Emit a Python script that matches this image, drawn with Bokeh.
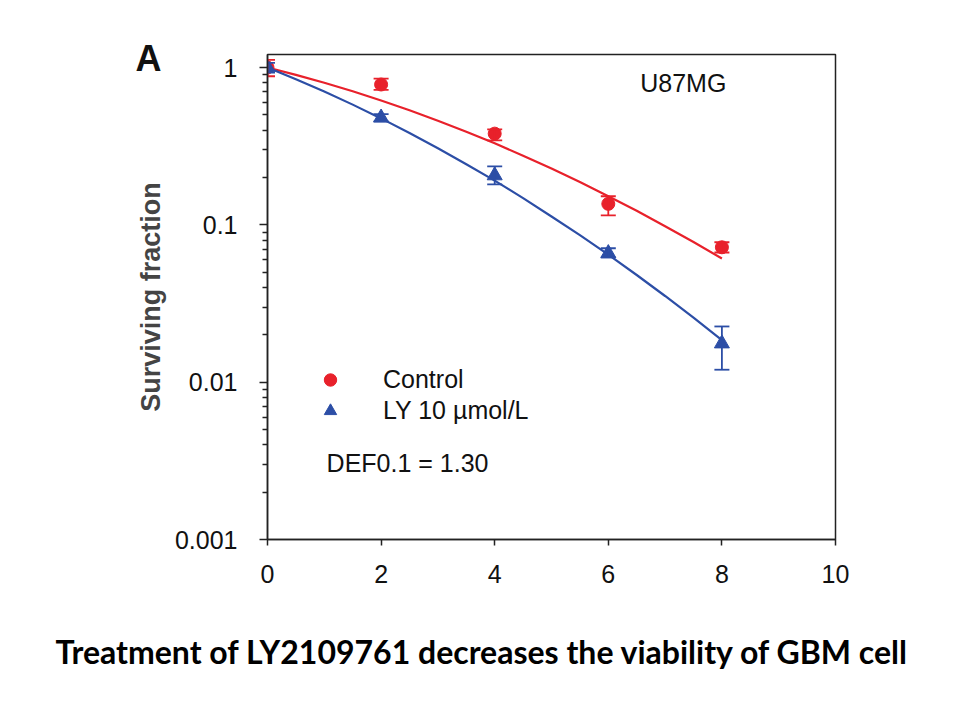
from bokeh.plotting import figure
from bokeh.models import (Range1d, FixedTicker, ColumnDataSource, Whisker, TeeHead,
                          Label, Legend, LegendItem, CustomJSTickFormatter, Title)
from bokeh.embed import file_html
from bokeh.resources import INLINE

# ---- data ----
dose = [0, 2, 4, 6, 8]
control_sf = [1.0, 0.78, 0.38, 0.136, 0.072]
control_lo = [0.88, 0.72, 0.344, 0.115, 0.0667]
control_hi = [1.12, 0.85, 0.404, 0.152, 0.0775]
ly_sf = [1.0, 0.48, 0.206, 0.066, 0.0176]
ly_lo = [0.93, 0.455, 0.181, 0.062, 0.0120]
ly_hi = [1.07, 0.505, 0.235, 0.071, 0.0226]

fit_dose = [0, 0.5, 1, 1.5, 2, 2.5, 3, 3.5, 4, 4.5, 5, 5.5, 6, 6.5, 7, 7.5, 8]
control_fit = [1.0, 0.898, 0.800, 0.706, 0.617, 0.535, 0.459, 0.391, 0.330,
               0.275, 0.228, 0.187, 0.152, 0.123, 0.098, 0.0778, 0.0611]
ly_fit = [1.0, 0.843, 0.704, 0.581, 0.475, 0.384, 0.307, 0.243, 0.191,
          0.148, 0.113, 0.0860, 0.0646, 0.0480, 0.0353, 0.0257, 0.0185]

x_ticks = [0, 2, 4, 6, 8, 10]
y_ticks = [0.001, 0.01, 0.1, 1]
y_minor = [0.002, 0.003, 0.004, 0.005, 0.006, 0.007, 0.008, 0.009,
           0.02, 0.03, 0.04, 0.05, 0.06, 0.07, 0.08, 0.09,
           0.2, 0.3, 0.4, 0.5, 0.6, 0.7, 0.8, 0.9]

series_names = ["Control", "LY 10 \u00b5mol/L"]
panel_letter = "A"
cell_line = "U87MG"
def_text = "DEF0.1 = 1.30"
y_title = "Surviving fraction"
caption = "Treatment of LY2109761 decreases the viability of GBM cell"

RED = "#e8212b"
BLUE = "#2c4ea6"
FONT = "Liberation Sans"

p = figure(width=960, height=720, x_range=Range1d(0, 10), y_range=Range1d(0.001, 1.21),
           y_axis_type="log", output_backend="svg", toolbar_location=None,
           min_border_left=267, min_border_right=125, min_border_top=54, min_border_bottom=181)
p.background_fill_color = "white"
p.border_fill_color = "white"
p.outline_line_color = "#222222"
p.outline_line_width = 1.5
p.grid.visible = False

# axes
p.xaxis.ticker = FixedTicker(ticks=x_ticks)
p.xaxis.minor_tick_line_color = None
p.xaxis.major_tick_in = 0
p.xaxis.major_tick_out = 6
p.xaxis.major_label_standoff = 19
p.yaxis.ticker = FixedTicker(ticks=y_ticks, minor_ticks=y_minor)
p.yaxis.formatter = CustomJSTickFormatter(code="return tick.toString();")
p.yaxis.major_tick_in = 0
p.yaxis.major_tick_out = 8
p.yaxis.minor_tick_in = 0
p.yaxis.minor_tick_out = 5
p.yaxis.major_label_standoff = 22
p.yaxis.axis_label = y_title
p.yaxis.axis_label_text_font = FONT
p.yaxis.axis_label_text_font_style = "bold"
p.yaxis.axis_label_text_font_size = "27px"
p.yaxis.axis_label_standoff = 6
for ax in (p.xaxis, p.yaxis):
    ax.axis_line_color = "#222222"
    ax.axis_line_width = 1.5
    ax.major_tick_line_color = "#222222"
    ax.major_tick_line_width = 1.5
    ax.major_label_text_font = FONT
    ax.major_label_text_font_size = "25px"
    ax.major_label_text_color = "#111111"
p.yaxis.minor_tick_line_color = "#222222"
p.yaxis.minor_tick_line_width = 1.5

# fitted curves
p.line(fit_dose, control_fit, line_color=RED, line_width=2.2)
p.line(fit_dose, ly_fit, line_color=BLUE, line_width=2.2)

# error bars
src_c = ColumnDataSource(dict(x=dose, y=control_sf, lo=control_lo, hi=control_hi))
src_l = ColumnDataSource(dict(x=dose, y=ly_sf, lo=ly_lo, hi=ly_hi))
for src, col in ((src_c, RED), (src_l, BLUE)):
    w = Whisker(source=src, base="x", lower="lo", upper="hi", dimension="height",
                line_color=col, line_width=1.8, level="glyph",
                lower_head=TeeHead(size=15, line_color=col, line_width=1.8),
                upper_head=TeeHead(size=15, line_color=col, line_width=1.8))
    p.add_layout(w)

# points
r_c = p.scatter("x", "y", source=src_c, marker="circle", size=13,
                fill_color=RED, line_color=RED)
r_l = p.scatter("x", "y", source=src_l, marker="triangle", size=15,
                fill_color=BLUE, line_color=BLUE)

legend = Legend(items=[LegendItem(label=series_names[0], renderers=[r_c]),
                       LegendItem(label=series_names[1], renderers=[r_l])],
                location=(45, 113), orientation="vertical",
                glyph_width=36, glyph_height=31, spacing=0, padding=0, margin=0,
                label_standoff=35, label_text_font=FONT, label_text_font_size="25px",
                label_text_color="#111111", label_height=31,
                border_line_color=None, background_fill_alpha=0)
p.add_layout(legend)

# texts inside the frame
p.add_layout(Label(x=7.32, y=0.803, text=cell_line, text_font=FONT, text_font_size="25px",
                   text_color="#111111", text_align="center", text_baseline="middle"))
p.add_layout(Label(x=1.04, y=0.00308, text=def_text, text_font=FONT, text_font_size="25px",
                   text_color="#111111", text_align="left", text_baseline="middle"))

# texts outside the frame (titles are not clipped)
p.add_layout(Title(text=panel_letter, align="left", offset=-132, standoff=-48,
                   text_font=FONT, text_font_size="36px", text_font_style="bold",
                   text_color="#111111"), "above")
p.add_layout(Title(text=caption, align="left", offset=-212, standoff=88,
                   text_font="Lato", text_font_size="32px", text_font_style="bold",
                   text_color="black"), "below")

open("out.html", "w").write(file_html(p, INLINE))
